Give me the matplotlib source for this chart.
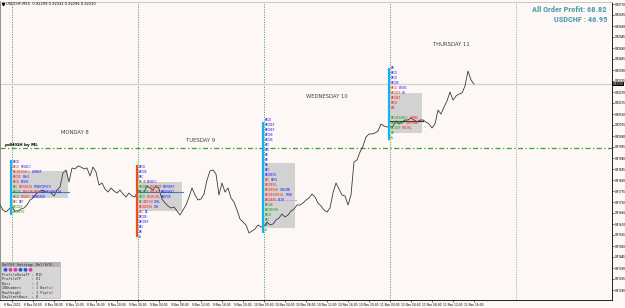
import numpy as np
import matplotlib.pyplot as plt
from matplotlib.patches import Rectangle, Circle

# close prices, one sample every ~34 min, first one 2h before monday open
close = [0.91705, 0.91680, 0.91670, 0.91685, 0.91695, 0.91675, 0.91675, 0.91685, 0.91690, 0.91705,
         0.91730, 0.91740, 0.91760, 0.91770, 0.91780, 0.91770, 0.91770, 0.91765, 0.91750, 0.91780,
         0.91795, 0.91865, 0.91880, 0.91820, 0.91890, 0.91885, 0.91900, 0.91895, 0.91885, 0.91890,
         0.91850, 0.91895, 0.91870, 0.91805, 0.91815, 0.91785, 0.91770, 0.91790, 0.91775, 0.91765,
         0.91780, 0.91760, 0.91745, 0.91765, 0.91750, 0.91745, 0.91780, 0.91765, 0.91770, 0.91800,
         0.91790, 0.91780, 0.91800, 0.91785, 0.91735, 0.91715, 0.91700, 0.91690, 0.91695, 0.91675,
         0.91655, 0.91680, 0.91705, 0.91745, 0.91790, 0.91755, 0.91730, 0.91735, 0.91760, 0.91830,
         0.91875, 0.91880, 0.91860, 0.91755, 0.91815, 0.91770, 0.91790, 0.91740, 0.91720, 0.91680,
         0.91635, 0.91620, 0.91605, 0.91565, 0.91575, 0.91585, 0.91605, 0.91595, 0.91600, 0.91620,
         0.91605, 0.91610, 0.91630, 0.91640, 0.91660, 0.91645, 0.91655, 0.91675, 0.91685, 0.91705,
         0.91705, 0.91715, 0.91730, 0.91740, 0.91760, 0.91745, 0.91715, 0.91700, 0.91680, 0.91670,
         0.91690, 0.91765, 0.91815, 0.91785, 0.91755, 0.91750, 0.91705, 0.91755, 0.91920, 0.91930,
         0.91970, 0.92000, 0.92045, 0.92060, 0.92060, 0.92065, 0.92075, 0.92110, 0.92100, 0.92095,
         0.92095, 0.92100, 0.92125, 0.92110, 0.92120, 0.92130, 0.92130, 0.92140, 0.92130, 0.92120,
         0.92130, 0.92130, 0.92120, 0.92110, 0.92090, 0.92110, 0.92180, 0.92160, 0.92195, 0.92225,
         0.92270, 0.92230, 0.92250, 0.92260, 0.92265, 0.92300, 0.92375, 0.92330, 0.92310]

day_starts = [4, 46, 88, 130, 172]
day_names = ['MONDAY 8', 'TUESDAY 9', 'WEDNESDAY 10', 'THURSDAY 11']
pd_high = 0.91990

time_labels = ['8 Nov 2021', '8 Nov 04:00', '8 Nov 08:00', '8 Nov 12:00', '8 Nov 16:00', '8 Nov 20:00',
               '9 Nov 00:00', '9 Nov 04:00', '9 Nov 08:00', '9 Nov 12:00', '9 Nov 16:00', '9 Nov 20:00',
               '10 Nov 00:00', '10 Nov 04:00', '10 Nov 08:00', '10 Nov 12:00', '10 Nov 16:00', '10 Nov 20:00',
               '11 Nov 00:00', '11 Nov 04:00', '11 Nov 08:00', '11 Nov 12:00', '11 Nov 16:00']

# market profile per day
bar_top = [0.91930, 0.91905, 0.92120, 0.92390]
bar_bot = [0.91655, 0.91545, 0.91565, 0.92030]
va_high = [0.91875, 0.91820, 0.91915, 0.92265]
va_low = [0.91740, 0.91675, 0.91590, 0.92065]
poc = [0.91770, 0.91770, 0.91730, 0.92125]
tpo_top = [0.91920, 0.91895, 0.92130, 0.92390]
tpo_rows = [
    ["b4", "r4 b6", "r10 b6", "r5 b4", "r4 b5", "g3 r8 b10", "g5 r10 b12", "g4 r6 b8", "r3 b3", "g6", "g7"],
    ["b4", "b5", "b3", "g2 r2 b6", "g6 r7 b7", "g6 r6 b8", "g4 r8 b6", "g2 r6 b4", "r8 b3", "r3 b2",
     "b5", "b6", "b3", "b2", "b1"],
    ["b4", "b6", "b6", "b5", "b5", "b3", "b3", "b2", "b2", "b2", "b3", "b7", "r3 b4", "r7", "r8 b6",
     "r11 b4", "r7 b4", "g5", "g8", "g4", "g3", "g2", "g1"],
    ["b2", "b4", "b4", "b5", "r4 b5", "r6 b2", "r6", "r4", "r3", "", "g10 r5", "g8 r8", "g6 r6", "g2", "g1"],
]
tick_size = 0.00025

total_profit = 68.82
pair_profit = 46.95

bg = '#fdf8f6'
narrow = ['Roboto Condensed', 'Liberation Sans Narrow', 'Liberation Sans']

fig = plt.figure(figsize=(6.25, 3.08), dpi=100, facecolor=bg)
ax = fig.add_axes([0, 8 / 308, 612 / 625, 298 / 308], facecolor=bg)
ax.set_xlim(0, 204)
ax.set_ylim(0.91230, 0.92720)

x = np.arange(len(close))
ax.plot(x, close, color='#3a3a3a', lw=0.6, zorder=5)

# day separators
for i, d in enumerate(day_starts):
    c = '#48a048' if i < 4 else '#a8a8a8'
    ax.axvline(d, color=c, lw=0.6, ls=(0, (1.5, 1.5)), zorder=1)

ax.axhline(pd_high, color='#3aa03a', lw=0.9, ls=(0, (4, 2, 1, 2)), zorder=2)
ax.text(1.7, pd_high + 0.00004, 'pdHIGH by ML', fontsize=3, fontweight='bold', color='black',
        va='bottom', ha='left', zorder=6)
ax.axhline(close[-1], color='#d2d2d2', lw=0.9, zorder=1)

label_pos = [(25, 0.92065), (66.7, 0.92030), (109, 0.92250), (150.3, 0.92510)]
for name, (lx, ly) in zip(day_names, label_pos):
    ax.text(lx, ly, name, fontsize=3.8, color='#404040', ha='center', va='center')

# profiles
box_len = [18.7, 14.7, 10.3, 10.7]
bar_col = ['#12b4ef', '#e8501e', '#12b4ef', '#12b4ef']
poc_col = ['#4a7fb0', '#4a7fb0', '#d8a6e8', '#303030']
seg_col = {'b': '#1a1aff', 'r': '#ff1a1a', 'g': '#149c14'}
letters = 'ABCDEFGHIJKLMNOPQRSTUVWXYZ'
cw = 0.62
for k in range(4):
    d = day_starts[k]
    ax.add_patch(Rectangle((d, va_low[k]), box_len[k], va_high[k] - va_low[k],
                           fc='#d2d2d2', ec='none', zorder=2))
    ax.plot([d - 0.4, d - 0.4], [bar_bot[k], bar_top[k]], color=bar_col[k], lw=1.6,
            solid_capstyle='butt', zorder=6)
    ax.plot([d, d + box_len[k] + 0.3], [poc[k], poc[k]], color=poc_col[k], lw=0.8, zorder=6)
    for r, row in enumerate(tpo_rows[k]):
        yy = tpo_top[k] - r * tick_size
        xx = d + 0.3
        n = 0
        for seg in row.split():
            cnt = int(seg[1:])
            txt = ''.join(letters[(n + j) % 26] for j in range(cnt))
            ax.text(xx, yy, txt, fontsize=2.2, family='DejaVu Sans Mono', color=seg_col[seg[0]],
                    va='center', ha='left', zorder=7)
            xx += cnt * cw
            n += cnt

# axes styling
ax.yaxis.tick_right()
yt = np.round(0.92710 - 0.00055 * np.arange(27), 5)
ax.set_yticks(yt)
ax.set_yticklabels([f'{v:.5f}' for v in yt], family=narrow)
ax.set_xticks([day_starts[0] + 7 * i for i in range(len(time_labels))])
ax.set_xticklabels(time_labels)
ax.tick_params(axis='y', labelsize=2.4, length=1.2, width=0.4, pad=0.5, colors='black')
ax.tick_params(axis='x', labelsize=2.1, length=1.5, width=0.4, pad=0.8, colors='black')
for s in ['right', 'bottom']:
    ax.spines[s].set_linewidth(0.6)
ax.spines['left'].set_color('#808080')
ax.spines['left'].set_linewidth(1.2)
ax.spines['top'].set_color('#c0c0c0')
ax.spines['top'].set_linewidth(0.6)

ax.annotate(f'{close[-1]:.5f}', xy=(1.0, close[-1]), xycoords=('axes fraction', 'data'),
            xytext=(0.5, 0), textcoords='offset points', fontsize=2.4, family=narrow, color='white',
            va='center', ha='left', bbox=dict(boxstyle='square,pad=0.12', fc='black', ec='none'))

# overlay in pixel coords for the panel and header
ov = fig.add_axes([0, 0, 1, 1], facecolor='none')
ov.set_xlim(0, 625)
ov.set_ylim(308, 0)
ov.axis('off')

ov.text(607, 10, f'All Order Profit: {total_profit:.2f}', fontsize=6.0, fontweight='bold',
        family=narrow, color='#4a9bab', ha='right', va='center')
ov.text(607, 20, f'USDCHF : {pair_profit:.2f}', fontsize=6.0, fontweight='bold',
        family=narrow, color='#4a9bab', ha='right', va='center')

ov.plot([3.2], [4], marker='v', ms=1.6, color='black')
ov.text(6, 4, 'USDCHF,M15  0.92299 0.92332 0.92296 0.92310', fontsize=2.6, color='black',
        va='center', ha='left')

ov.add_patch(Rectangle((0.5, 262), 59, 36, fc='#d6d6d6', ec='#a8a8a8', lw=0.4))
ov.add_patch(Rectangle((0.5, 262), 59, 5, fc='#b4b4b4', ec='none'))
ov.text(2, 264.6, 'On/Off Setting: Del(9/O)', fontsize=2.6, family='DejaVu Sans Mono',
        color='#202020', va='center')
for i, c in enumerate(['#3050e0', '#e03aa0', '#e03aa0', '#3050e0', '#3050e0', '#e03aa0']):
    ov.add_patch(Circle((5.5 + 5 * i, 269.8), 1.9, fc=c, ec='none'))
panel_lines = ['ProfileDataTF : M15', 'ProfileTF     : D1', 'Bars          : 3',
               'IBNumbers     : 1 Bar(s)', 'RowHeight     : 1 Pip(s)', 'DayStartHour  : 0']
for i, t in enumerate(panel_lines):
    ov.text(2, 275 + 4.4 * i, t, fontsize=2.6, family='DejaVu Sans Mono', color='#303030',
            va='center')

fig.savefig('out.png', dpi=100, facecolor=bg)
